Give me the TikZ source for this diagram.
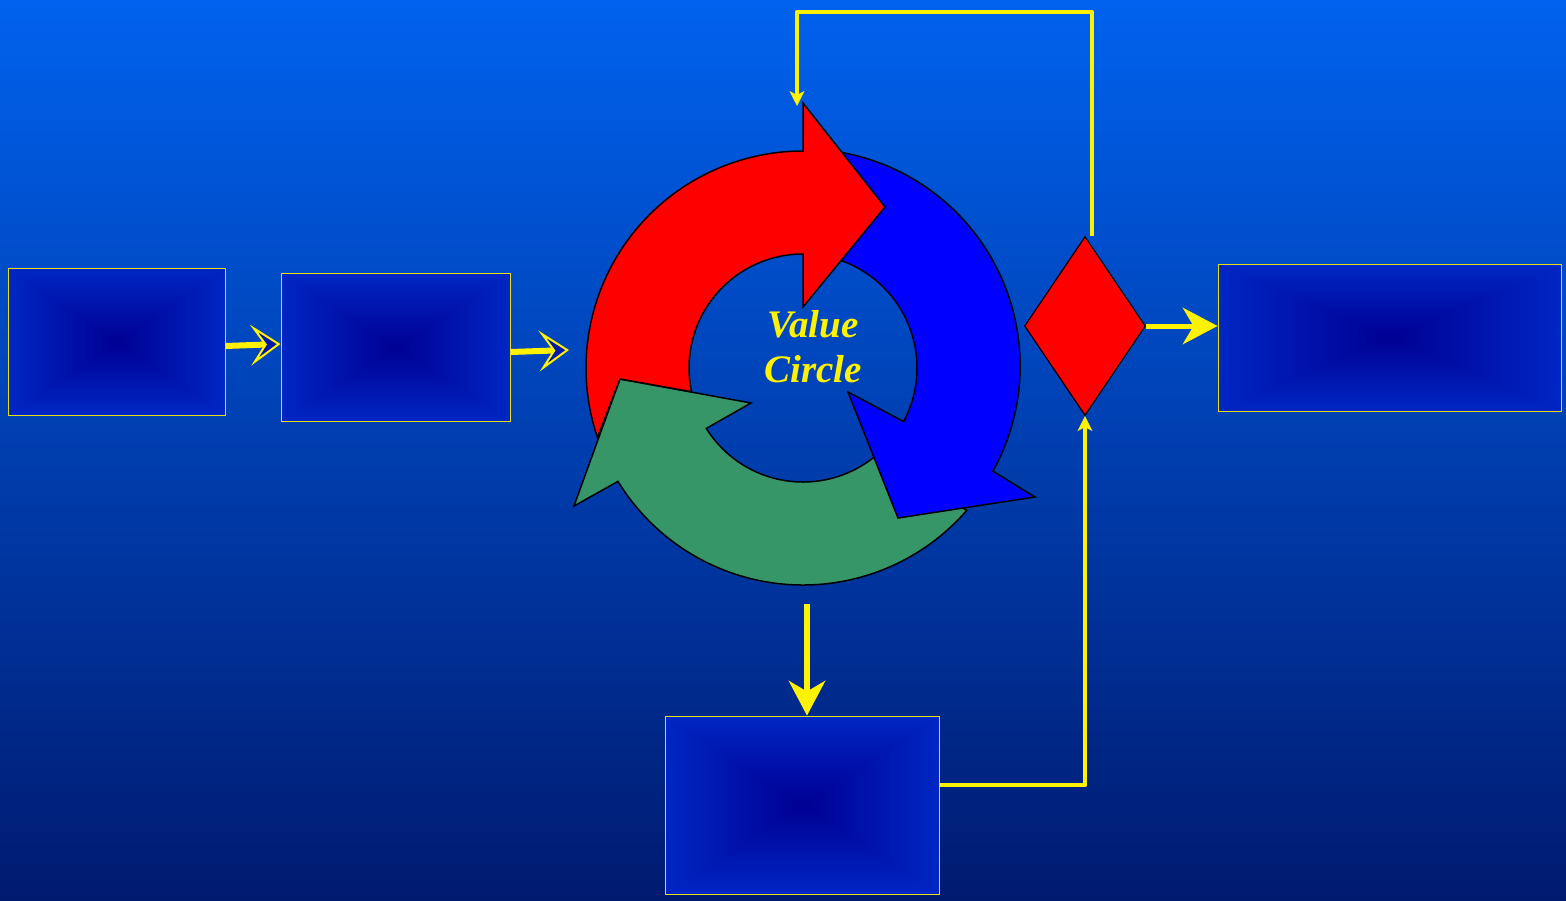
\documentclass[tikz,border=0pt]{standalone}
\usepackage{fontspec}
\setmainfont{Liberation Serif}
\usetikzlibrary{arrows.meta,shapes.geometric,calc}

\definecolor{bgtop}{RGB}{0,98,238}
\definecolor{bgmid}{RGB}{0,72,184}
\definecolor{bgbot}{RGB}{0,26,112}
\definecolor{vcgreen}{RGB}{54,150,103}
\definecolor{tipfill}{RGB}{0,24,170}

\pgfdeclarefunctionalshading{boxshade}{\pgfpoint{-50bp}{-50bp}}{\pgfpoint{50bp}{50bp}}{}{
abs exch abs 2 copy lt {exch} if pop 50 div
1.5 mul dup 1 gt {pop 1} if
dup 0.2 mul exch 0.25 mul 0.58 add
0 3 1 roll
}

\begin{document}
\begin{tikzpicture}[x=1pt,y=-1pt,
  box/.style={draw=yellow!90!black, line width=1pt, shading=boxshade, rectangle, inner sep=0pt},
  flow/.style={yellow, line width=6pt, -{Stealth[length=35pt,width=37pt,inset=11pt,line width=1pt]}},
  hollow/.style={yellow, line width=6pt, -{Stealth[length=30pt,width=41pt,inset=14pt,fill=tipfill,line width=2pt]}},
  feedback/.style={yellow, line width=4.5pt, line join=round, -{Stealth[length=15pt,width=15pt,inset=4pt,line width=1pt]}},
  piece/.style={draw=black, line width=1.5pt},
  label/.style={text=yellow, font=\fontsize{39}{45}\selectfont\bfseries\itshape, anchor=base}]
%\node {\includegraphics{valuecircle.png}};
\fill[top color=bgtop, middle color=bgmid, bottom color=bgbot] (0,0) rectangle (1566,900);

\node[box, minimum width=217pt, minimum height=147pt] (A) at (116.5,341.5) {};
\node[box, minimum width=229pt, minimum height=148pt] (B) at (395.5,347) {};
\node[box, minimum width=343pt, minimum height=147pt] (R) at (1389.5,337.5) {};
\node[box, minimum width=274pt, minimum height=178pt] (D) at (802,805) {};
\node[diamond, draw=black, fill=red, line width=1.2pt, minimum width=121pt, minimum height=179pt, inner sep=0pt] (dec) at (1085,326) {};

\coordinate (C) at (803,368);
\draw[piece, fill=vcgreen] ($(C)+(41:217)$) arc[start angle=41, end angle=148.5, radius=217] -- (574,506) -- (620,379) -- (751,403) -- ($(C)+(148:114)$) arc[start angle=148, end angle=52, radius=114] -- cycle;
\draw[piece, fill=blue] ($(C)+(275:219)$) arc[start angle=275, end angle=389, radius=217] -- (1035,497) -- (898,518) -- (848,392) -- ($(C)+(28:114)$) arc[start angle=388, end angle=280, radius=114] -- cycle;
\draw[piece, fill=red] ($(C)+(161.3:217)$) arc[start angle=161.3, end angle=270, radius=217] -- (803,103) -- (885,207) -- (803,307) -- ($(C)+(270:114)$) arc[start angle=270, end angle=168, radius=114] -- (620,379) -- cycle;

\node[label] (vc1) at (813,337) {Value};
\node[label] (vc2) at (813,382) {Circle};

\coordinate (cin) at (569,350);
\coordinate (cout) at (807,604);
\coordinate (turn) at (797,12);
\coordinate (top) at (797,106);
\draw[hollow] ([yshift=-4.5pt]A.east) -- ([yshift=3pt]B.west);
\draw[hollow] ([yshift=-5pt]B.east) -- (cin);
\draw[flow] (cout) -- (cout |- D.north);
\draw[flow, line width=5pt] (dec.east) -- (dec.east -| R.west);
\draw[feedback] ([xshift=7pt]dec.north) |- (turn) -- (top);
\draw[feedback] ([yshift=20pt]D.east) -| (dec.south);

\end{tikzpicture}
\end{document}
